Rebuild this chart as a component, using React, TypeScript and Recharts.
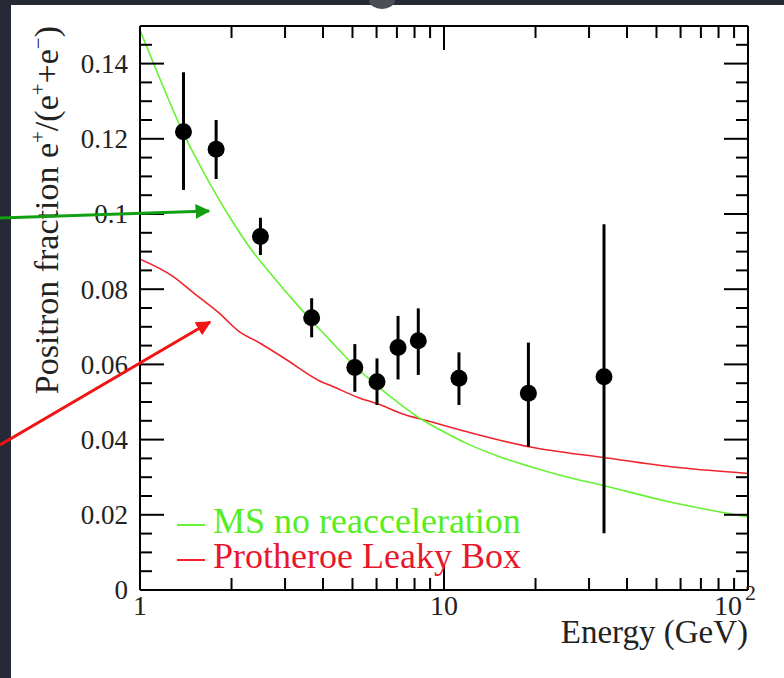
import React from 'react'
import { ComposedChart, Line, Scatter, ErrorBar, XAxis, YAxis, Legend } from 'recharts'

// axis ticks
const energyTicks = [1, 2, 3, 4, 5, 6, 7, 8, 9, 10, 20, 30, 40, 50, 60, 70, 80, 90, 100]
const energyLabels = [1, 10, 100]
const fractionLabels = [0, 0.02, 0.04, 0.06, 0.08, 0.1, 0.12, 0.14]
const fractionMinorStep = 0.005

// measured positron fraction with errors
const dataEnergy = [1.39, 1.78, 2.49, 3.67, 5.09, 6.02, 7.06, 8.23, 11.2, 18.95, 33.6]
const dataFraction = [0.1219, 0.1172, 0.094, 0.0724, 0.0592, 0.0554, 0.0645, 0.0663, 0.0563, 0.0523, 0.0567]
const dataErrLow = [0.0155, 0.0079, 0.0049, 0.0052, 0.0065, 0.0062, 0.0085, 0.0091, 0.0071, 0.0142, 0.0416]
const dataErrHigh = [0.0158, 0.0078, 0.005, 0.0052, 0.0062, 0.0062, 0.0084, 0.0086, 0.0069, 0.0135, 0.0406]

// MS no reacceleration model
const msEnergy = [1, 1.2, 1.37, 1.6, 1.8, 2.0, 2.3, 2.75, 3.27, 3.67, 4.22, 5.1, 6.07, 7.1, 8.2, 9.7, 12, 15.3, 20, 25, 33.4, 54, 100]
const msFraction = [0.1489, 0.1333, 0.1225, 0.1119, 0.1045, 0.0984, 0.091, 0.0832, 0.0761, 0.0716, 0.0664, 0.0595, 0.0541, 0.0497, 0.046, 0.0426, 0.0388, 0.0354, 0.0324, 0.0302, 0.0278, 0.0236, 0.0194]

// Protheroe leaky box model
const lbEnergy = [1, 1.29, 1.5, 1.83, 2.1, 2.5, 3.0, 3.9, 4.2, 5.3, 6.2, 7.2, 9.0, 12, 19, 33, 60, 100]
const lbFraction = [0.088, 0.0833, 0.079, 0.0735, 0.069, 0.0655, 0.0615, 0.0556, 0.0545, 0.051, 0.0492, 0.047, 0.0448, 0.042, 0.0381, 0.0353, 0.0325, 0.031]

const fractionTicks: number[] = []
for (let i = 0; i <= 30; i++) fractionTicks.push(Number((i * fractionMinorStep).toFixed(3)))

const points = dataEnergy.map((e, i) => ({ e, f: dataFraction[i], err: [dataErrLow[i], dataErrHigh[i]] }))
const msLine = msEnergy.map((e, i) => ({ e, f: msFraction[i] }))
const lbLine = lbEnergy.map((e, i) => ({ e, f: lbFraction[i] }))

const FONT = "'Liberation Serif', 'Times New Roman', serif"
const GREEN = '#66f233'
const RED = '#f0242c'
const MAJOR = 24
const MINOR = 12

const isMajorY = (v: number) => fractionLabels.some((l) => Math.abs(l - v) < 1e-9)
const isMajorX = (v: number) => energyLabels.includes(v)

const LeftTick = (props: any) => {
  const { x, y, payload } = props
  const v = payload.value
  const major = isMajorY(v)
  return (
    <g>
      <line x1={x} x2={x + (major ? MAJOR : MINOR)} y1={y} y2={y} stroke="#000" strokeWidth={2} />
      {major && (
        <text x={x - 12} y={y} dy="0.35em" textAnchor="end" fontFamily={FONT} fontSize={27} fill="#222">
          {String(v)}
        </text>
      )}
    </g>
  )
}

const RightTick = (props: any) => {
  const { x, y, payload } = props
  const len = isMajorY(payload.value) ? MAJOR : MINOR
  return <line x1={x} x2={x - len} y1={y} y2={y} stroke="#000" strokeWidth={2} />
}

const BottomTick = (props: any) => {
  const { x, y, payload } = props
  const v = payload.value
  const major = isMajorX(v)
  return (
    <g>
      <line x1={x} x2={x} y1={y} y2={y - (major ? MAJOR : MINOR)} stroke="#000" strokeWidth={2} />
      {major && v !== 100 && (
        <text x={x} y={y + 25} textAnchor="middle" fontFamily={FONT} fontSize={28} fill="#222">
          {String(v)}
        </text>
      )}
      {v === 100 && (
        <text x={x - 13} y={y + 25} textAnchor="middle" fontFamily={FONT} fontSize={28} fill="#222">
          10<tspan dx={3} dy={-15} fontSize={22}>2</tspan>
        </text>
      )}
    </g>
  )
}

const TopTick = (props: any) => {
  const { x, y, payload } = props
  const len = isMajorX(payload.value) ? MAJOR : MINOR
  return <line x1={x} x2={x} y1={y} y2={y + len} stroke="#000" strokeWidth={2} />
}

const YTitle = () => (
  <text transform="translate(58, 26) rotate(-90)" textAnchor="end" fontFamily={FONT} fontSize={34} fill="#222">
    Positron fraction e<tspan dy={-13} fontSize={21}>+</tspan>
    <tspan dy={13}>/(e</tspan>
    <tspan dy={-13} fontSize={21}>+</tspan>
    <tspan dy={13}>+e</tspan>
    <tspan dy={-13} fontSize={21}>−</tspan>
    <tspan dy={13}>)</tspan>
  </text>
)

const XTitle = () => (
  <text x={748} y={643} textAnchor="end" fontFamily={FONT} fontSize={33} fill="#222">
    Energy (GeV)
  </text>
)

const ModelLegend = () => (
  <div style={{ fontFamily: FONT, fontSize: 36, lineHeight: '35px' }}>
    <div style={{ color: '#55ee22', whiteSpace: 'nowrap' }}>
      <span style={{ display: 'inline-block', width: 28, height: 2, background: GREEN, verticalAlign: 'middle', marginRight: 8 }} />
      MS no reacceleration
    </div>
    <div style={{ color: '#e8182c', whiteSpace: 'nowrap' }}>
      <span style={{ display: 'inline-block', width: 28, height: 2, background: RED, verticalAlign: 'middle', marginRight: 8 }} />
      Protheroe Leaky Box
    </div>
  </div>
)

const Dot = (props: any) => <circle cx={props.cx} cy={props.cy} r={8.5} fill="#000" />

export default function App() {
  return (
    <div style={{ position: 'fixed', left: 0, top: 0, width: 784, height: 678, background: '#252a36', overflow: 'hidden' }}>
      <div style={{ position: 'absolute', left: 11, top: 5, width: 773, height: 673, background: '#fff' }} />
      <div style={{ position: 'absolute', left: 0, top: 0 }}>
        <ComposedChart width={784} height={678} margin={{ top: 25, right: 35, bottom: 48, left: 40 }}>
          <XAxis
            xAxisId="b"
            dataKey="e"
            type="number"
            scale="log"
            domain={[1, 100]}
            allowDataOverflow
            ticks={energyTicks}
            interval={0}
            tick={BottomTick}
            tickSize={0}
            tickMargin={0}
            height={40}
            axisLine={{ stroke: '#000', strokeWidth: 2 }}
            label={{ content: XTitle }}
          />
          <XAxis
            xAxisId="t"
            orientation="top"
            dataKey="e"
            type="number"
            scale="log"
            domain={[1, 100]}
            allowDataOverflow
            ticks={energyTicks}
            interval={0}
            tick={TopTick}
            tickSize={0}
            tickMargin={0}
            height={1}
            axisLine={{ stroke: '#000', strokeWidth: 2 }}
          />
          <YAxis
            yAxisId="l"
            type="number"
            domain={[0, 0.15]}
            allowDataOverflow
            ticks={fractionTicks}
            interval={0}
            tick={LeftTick}
            tickSize={0}
            tickMargin={0}
            width={100}
            axisLine={{ stroke: '#000', strokeWidth: 2 }}
            label={{ content: YTitle }}
          />
          <YAxis
            yAxisId="r"
            orientation="right"
            type="number"
            domain={[0, 0.15]}
            allowDataOverflow
            ticks={fractionTicks}
            interval={0}
            tick={RightTick}
            tickSize={0}
            tickMargin={0}
            width={1}
            axisLine={{ stroke: '#000', strokeWidth: 2 }}
          />
          <Line xAxisId="b" yAxisId="l" data={lbLine} dataKey="f" type="monotone" stroke={RED} strokeWidth={1.6} dot={false} isAnimationActive={false} />
          <Line xAxisId="b" yAxisId="l" data={msLine} dataKey="f" type="monotone" stroke={GREEN} strokeWidth={1.6} dot={false} isAnimationActive={false} />
          <Scatter xAxisId="b" yAxisId="l" data={points} dataKey="f" shape={Dot} isAnimationActive={false}>
            <ErrorBar dataKey="err" direction="y" width={0} stroke="#000" strokeWidth={3} isAnimationActive={false} />
          </Scatter>
          <Legend
            layout="vertical"
            align="center"
            verticalAlign="middle"
            content={ModelLegend}
            wrapperStyle={{ left: 177, top: 504, width: 420, height: 72 }}
          />
        </ComposedChart>
      </div>
      <svg width={784} height={678} style={{ position: 'absolute', left: 0, top: 0, pointerEvents: 'none' }}>
        <defs>
          <marker id="ahG" markerWidth="5" markerHeight="5" refX="4.5" refY="2.5" orient="auto" markerUnits="strokeWidth">
            <path d="M0,0 L5,2.5 L0,5 z" fill="#12a012" />
          </marker>
          <marker id="ahR" markerWidth="5" markerHeight="5" refX="4.5" refY="2.5" orient="auto" markerUnits="strokeWidth">
            <path d="M0,0 L5,2.5 L0,5 z" fill="#f01414" />
          </marker>
        </defs>
        <ellipse cx={382} cy={0} rx={13} ry={9} fill="#4a4e57" />
        <line x1={0} y1={218} x2={209} y2={211} stroke="#12a012" strokeWidth={3} markerEnd="url(#ahG)" />
        <line x1={0} y1={445} x2={210} y2={322} stroke="#f01414" strokeWidth={3} markerEnd="url(#ahR)" />
      </svg>
    </div>
  )
}
